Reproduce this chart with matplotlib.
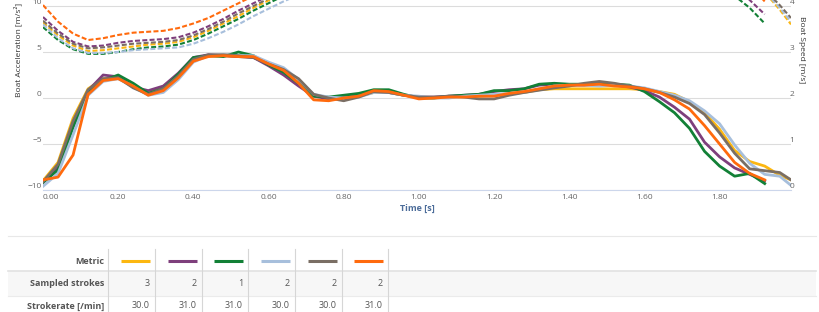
import matplotlib
matplotlib.use("Agg")
import matplotlib.pyplot as plt
from matplotlib.patches import Rectangle

plt.rcParams['font.family'] = ['Open Sans', 'DejaVu Sans']

# sample times [s]
time = [0.00, 0.04, 0.08, 0.12, 0.16, 0.20, 0.24, 0.28, 0.32, 0.36,
        0.40, 0.44, 0.48, 0.52, 0.56, 0.60, 0.64, 0.68, 0.72, 0.76,
        0.80, 0.84, 0.88, 0.92, 0.96, 1.00, 1.04, 1.08, 1.12, 1.16,
        1.20, 1.24, 1.28, 1.32, 1.36, 1.40, 1.44, 1.48, 1.52, 1.56,
        1.60, 1.64, 1.68, 1.72, 1.76, 1.80, 1.84, 1.88, 1.92, 1.96, 1.99]

# boat acceleration [m/s^2]
acc_yellow = [-9.0, -7.0, -2.2, 1.0, 2.1, 2.2, 1.2, 0.5, 1.2, 2.6,
              4.3, 4.6, 4.6, 4.5, 4.4, 3.7, 3.0, 1.9, 0.3, 0.0,
              0.0, 0.2, 0.6, 0.6, 0.3, 0.1, 0.0, 0.1, 0.2, 0.2,
              0.3, 0.5, 0.6, 0.9, 1.0, 1.0, 1.0, 1.0, 1.0, 1.0,
              0.9, 0.7, 0.4, -0.4, -1.6, -3.4, -5.7, -6.9, -7.4, -8.4, -8.9]
acc_purple = [-9.2, -7.5, -3.0, 0.8, 2.5, 2.3, 1.2, 0.8, 1.3, 2.7,
              4.4, 4.7, 4.6, 4.5, 4.4, 3.5, 2.5, 1.3, 0.2, -0.1,
              0.1, 0.2, 0.7, 0.6, 0.3, 0.1, 0.1, 0.2, 0.3, 0.4,
              0.7, 0.9, 1.0, 1.4, 1.5, 1.4, 1.4, 1.5, 1.4, 1.2,
              0.8, 0.1, -1.0, -2.3, -4.8, -6.4, -7.6, -8.3, -9.0]
acc_green = [-9.2, -7.8, -3.2, 0.6, 1.9, 2.5, 1.6, 0.5, 1.0, 2.6,
             4.4, 4.6, 4.5, 5.0, 4.6, 3.6, 2.8, 1.6, 0.2, 0.1,
             0.3, 0.5, 0.9, 0.9, 0.4, 0.0, 0.0, 0.2, 0.3, 0.4,
             0.8, 0.8, 1.0, 1.5, 1.6, 1.5, 1.5, 1.6, 1.5, 1.4,
             0.7, -0.4, -1.6, -3.3, -5.8, -7.4, -8.5, -8.2, -9.3]
acc_lightblue = [-9.6, -8.2, -4.0, 0.3, 1.8, 2.1, 1.2, 0.3, 0.6, 2.0,
                 3.9, 4.6, 4.7, 4.6, 4.6, 3.9, 3.3, 2.0, 0.4, 0.1,
                 0.0, 0.1, 0.6, 0.6, 0.3, 0.2, 0.0, 0.0, 0.2, 0.3,
                 0.4, 0.5, 0.6, 1.0, 1.3, 1.4, 1.4, 1.3, 1.4, 1.3,
                 1.1, 0.7, 0.3, -0.3, -1.4, -2.8, -5.1, -7.1, -8.3, -8.5, -9.5]
acc_gray = [-9.1, -7.2, -2.5, 0.9, 2.1, 2.2, 1.1, 0.4, 1.0, 2.4,
            4.2, 4.7, 4.7, 4.6, 4.4, 3.7, 3.1, 2.1, 0.4, 0.0,
            -0.3, 0.1, 0.7, 0.6, 0.3, 0.1, 0.1, 0.2, 0.1, -0.1,
            -0.1, 0.3, 0.6, 0.85, 1.1, 1.3, 1.6, 1.8, 1.6, 1.3,
            1.0, 0.6, 0.1, -0.6, -1.8, -3.8, -6.0, -7.7, -7.9, -8.1, -8.9]
acc_orange = [-8.9, -8.6, -6.2, 0.4, 1.9, 2.1, 1.3, 0.3, 0.8, 2.2,
              4.0, 4.5, 4.6, 4.5, 4.5, 3.7, 3.0, 1.6, -0.2, -0.3,
              0.0, 0.2, 0.8, 0.7, 0.3, -0.1, 0.0, 0.1, 0.1, 0.2,
              0.2, 0.5, 0.7, 1.0, 1.3, 1.4, 1.4, 1.5, 1.3, 1.2,
              1.0, 0.6, -0.2, -1.2, -3.0, -5.0, -7.0, -8.2, -8.9]

# boat speed [m/s]
spd_yellow = [3.64, 3.36, 3.14, 3.02, 3.04, 3.08, 3.12, 3.16, 3.18, 3.22,
              3.32, 3.46, 3.62, 3.78, 3.96, 4.12, 4.26, 4.36, 4.40, 4.40,
              4.40, 4.41, 4.43, 4.46, 4.47, 4.47, 4.47, 4.48, 4.49, 4.50,
              4.52, 4.54, 4.57, 4.61, 4.65, 4.69, 4.73, 4.77, 4.81, 4.85,
              4.88, 4.90, 4.91, 4.90, 4.86, 4.78, 4.64, 4.44, 4.30, 3.92, 3.60]
spd_purple = [3.76, 3.46, 3.22, 3.12, 3.14, 3.20, 3.24, 3.26, 3.28, 3.32,
              3.42, 3.56, 3.72, 3.90, 4.06, 4.22, 4.36, 4.46, 4.50, 4.50,
              4.50, 4.51, 4.53, 4.56, 4.57, 4.57, 4.57, 4.58, 4.58, 4.59,
              4.61, 4.64, 4.68, 4.73, 4.79, 4.85, 4.91, 4.97, 5.02, 5.06,
              5.09, 5.10, 5.06, 4.98, 4.85, 4.66, 4.45, 4.13, 3.82]
spd_green = [3.54, 3.26, 3.06, 2.96, 2.96, 3.00, 3.06, 3.10, 3.12, 3.16,
             3.26, 3.40, 3.56, 3.72, 3.90, 4.06, 4.22, 4.32, 4.36, 4.36,
             4.37, 4.39, 4.42, 4.45, 4.46, 4.46, 4.46, 4.47, 4.48, 4.50,
             4.53, 4.56, 4.60, 4.66, 4.72, 4.78, 4.84, 4.90, 4.94, 4.96,
             4.98, 4.98, 4.94, 4.86, 4.70, 4.50, 4.22, 3.96, 3.62]
spd_lightblue = [3.60, 3.30, 3.08, 2.98, 2.98, 3.00, 3.04, 3.06, 3.08, 3.10,
                 3.18, 3.30, 3.44, 3.60, 3.78, 3.94, 4.10, 4.24, 4.30, 4.30,
                 4.30, 4.31, 4.33, 4.36, 4.37, 4.37, 4.37, 4.38, 4.39, 4.40,
                 4.42, 4.44, 4.47, 4.51, 4.56, 4.61, 4.67, 4.72, 4.78, 4.83,
                 4.88, 4.91, 4.93, 4.93, 4.90, 4.84, 4.72, 4.52, 4.32, 3.96, 3.66]
spd_gray = [3.68, 3.40, 3.18, 3.08, 3.10, 3.14, 3.18, 3.20, 3.22, 3.26,
            3.36, 3.50, 3.66, 3.84, 4.00, 4.16, 4.30, 4.40, 4.44, 4.44,
            4.44, 4.45, 4.47, 4.50, 4.51, 4.51, 4.51, 4.52, 4.52, 4.52,
            4.53, 4.55, 4.58, 4.62, 4.66, 4.71, 4.77, 4.83, 4.89, 4.94,
            4.97, 4.99, 4.99, 4.97, 4.92, 4.83, 4.68, 4.50, 4.35, 4.02, 3.74]
spd_orange = [4.02, 3.66, 3.40, 3.26, 3.30, 3.37, 3.42, 3.44, 3.46, 3.52,
              3.62, 3.74, 3.90, 4.06, 4.22, 4.38, 4.52, 4.62, 4.66, 4.66,
              4.66, 4.67, 4.69, 4.72, 4.73, 4.73, 4.73, 4.74, 4.74, 4.75,
              4.76, 4.78, 4.81, 4.85, 4.90, 4.96, 5.01, 5.07, 5.13, 5.18,
              5.22, 5.25, 5.25, 5.20, 5.12, 4.97, 4.75, 4.45, 4.10]

colors = ['#fcb711', '#7e3f7c', '#128036', '#a7bfdc', '#7a6e64', '#ff6a0d']
acc_series = [acc_yellow, acc_purple, acc_green, acc_lightblue, acc_gray, acc_orange]
spd_series = [spd_yellow, spd_purple, spd_green, spd_lightblue, spd_gray, spd_orange]

sampled_strokes = [3, 2, 1, 2, 2, 2]
strokerate = [30.0, 31.0, 31.0, 30.0, 30.0, 31.0]

acc_ticks = [-10, -5, 0, 5, 10]
spd_ticks = [0, 1, 2, 3, 4]
time_ticks = [0.0, 0.2, 0.4, 0.6, 0.8, 1.0, 1.2, 1.4, 1.6, 1.8]

W, H = 820, 312
fig = plt.figure(figsize=(W / 100, H / 100), dpi=100)

# plot area: x from 43px to 791px, y=-10 at 190px, 9.2 px per unit
ax = fig.add_axes([43 / W, (H - 190) / H, 748 / W, 24 * 9.2 / H])
ax.set_xlim(0, 1.99)
ax.set_ylim(-10, 14)
ax2 = ax.twinx()
ax2.set_ylim(0, 4.8)

for t in acc_ticks:
    ax.axhline(t, color='#dcdcdc', lw=0.8, zorder=0)

for spd, c in zip(spd_series, colors):
    ln, = ax2.plot(time[:len(spd)], spd, color=c, lw=1.5)
    ln.set_dashes([2.4, 1.1])

for acc, c in zip(acc_series, colors):
    ax.plot(time[:len(acc)], acc, color=c, lw=2.0, solid_joinstyle='round')

for a in (ax, ax2):
    for s in a.spines.values():
        s.set_visible(False)
ax.spines['bottom'].set_visible(True)
ax.spines['bottom'].set_color('#ccd6eb')
ax.spines['bottom'].set_linewidth(0.8)

ax.set_yticks(acc_ticks)
ax.set_yticklabels([str(v).replace('-', '\u2212') for v in acc_ticks])
ax.tick_params(axis='y', length=0, pad=1, labelsize=6, labelcolor='#666666')
plt.setp(ax.get_yticklabels(), va='bottom')
ax2.set_yticks(spd_ticks)
ax2.tick_params(axis='y', length=0, pad=-1, labelsize=6, labelcolor='#666666')
plt.setp(ax2.get_yticklabels(), va='bottom')

ax.set_xticks(time_ticks)
ax.set_xticklabels(['%.2f' % v for v in time_ticks])
ax.tick_params(axis='x', length=0, pad=3, labelsize=6, labelcolor='#666666')
ax.get_xticklabels()[0].set_ha('left')

ax.set_xlabel('Time [s]', fontsize=6.5, fontweight='bold', color='#4d6d9a', labelpad=2)
ax.set_ylabel('Boat Acceleration [m/s\u00b2]', fontsize=6, color='#333333')
ax.yaxis.set_label_coords(-0.028, 0.634)
ax2.set_ylabel('Boat Speed [m/s]', fontsize=6, color='#333333', rotation=270)
ax2.yaxis.set_label_coords(1.019, 0.634)

# table below the chart, in pixel coordinates
tb = fig.add_axes([0, 0, 1, (H - 225) / H])
tb.set_xlim(0, W)
tb.set_ylim(H, 225)
tb.axis('off')

tb.plot([8, 816], [235.5, 235.5], color='#e8e8e8', lw=0.8)
tb.add_patch(Rectangle((8, 271), 808, 24.5, color='#f7f7f7', lw=0, zorder=0))
tb.plot([8, 816], [271, 271], color='#e2e2e2', lw=1.2)
tb.plot([8, 816], [295.5, 295.5], color='#ebebeb', lw=0.8)

col_edges = [108, 155, 202, 248, 295, 342, 388]
for x in col_edges:
    tb.plot([x, x], [249, H], color='#d6d6d6', lw=0.8)

row_y = [261, 283.5, 306]
row_names = ['Metric', 'Sampled strokes', 'Strokerate [/min]']
for y, name in zip(row_y, row_names):
    tb.text(104, y, name, ha='right', va='center', fontsize=6.5,
            fontweight='bold', color='#555555')

for i, c in enumerate(colors):
    right = col_edges[i + 1] - 5
    tb.plot([right - 29, right], [row_y[0], row_y[0]], color=c, lw=2.2,
            solid_capstyle='butt')
    tb.text(right, row_y[1], str(sampled_strokes[i]), ha='right', va='center',
            fontsize=6.5, color='#555555')
    tb.text(right, row_y[2], '%.1f' % strokerate[i], ha='right', va='center',
            fontsize=6.5, color='#555555')

fig.savefig('out.png', dpi=100)
